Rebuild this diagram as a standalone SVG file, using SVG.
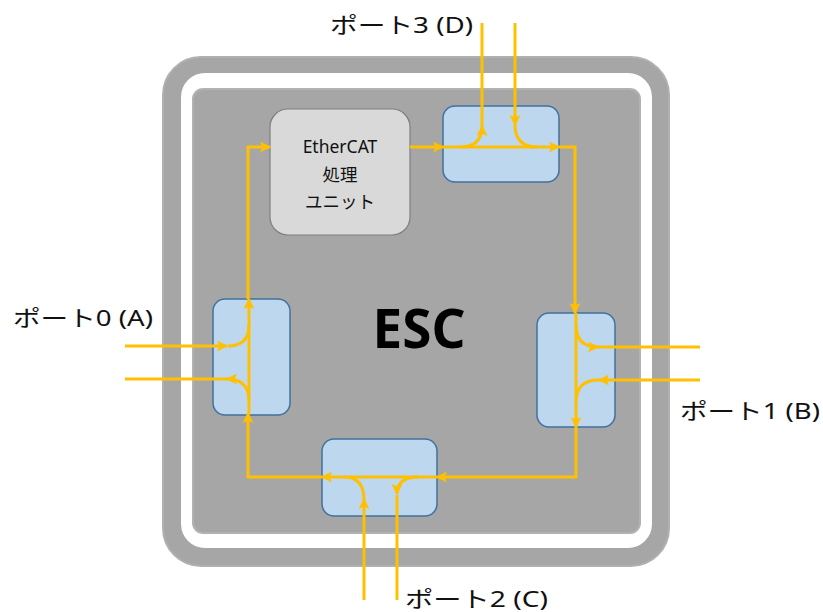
<svg xmlns="http://www.w3.org/2000/svg" width="823" height="612" viewBox="0 0 823 612">
<style>
.lbl{font-family:"Noto Sans","Noto Sans CJK JP",sans-serif;font-size:22px;fill:#111}
.unit{font-family:"Noto Sans","Noto Sans CJK JP",sans-serif;font-size:17.5px;fill:#111}
.port{fill:#bdd7ee;stroke:#41719c;stroke-width:1.5}
.ln{fill:none;stroke:#ffc000;stroke-width:3}
.ar{marker-end:url(#ah)}
</style>
<defs>
<marker id="ah" viewBox="0 0 10 10" refX="9" refY="5" markerWidth="11" markerHeight="11" markerUnits="userSpaceOnUse" orient="auto">
<path d="M0,0 L10,5 L0,10 L2,5 z" fill="#ffc000"/>
</marker>
</defs>
<rect width="823" height="612" fill="#fff"/>
<g id="esc-frame">
<rect x="163" y="57" width="506" height="509" rx="38" fill="#a6a6a6" stroke="#b0b0b0" stroke-width="2"/>
<rect x="181" y="73" width="471" height="475" rx="24" fill="#fff"/>
<rect x="193" y="89" width="447" height="444" rx="10" fill="#a6a6a6" stroke="#b2b2b2" stroke-width="2"/>
<text x="419" y="348" text-anchor="middle" style="font-family:'Noto Sans',sans-serif;font-size:53px;font-weight:bold;fill:#000">ESC</text>
</g>
<g id="ethercat-unit">
<rect x="270" y="109" width="140" height="126" rx="18" fill="#d9d9d9" stroke="#7f7f7f" stroke-width="1.2"/>
<text class="unit" x="340" y="153" text-anchor="middle">EtherCAT</text>
<text class="unit" x="340" y="181" text-anchor="middle">処理</text>
<text class="unit" x="340" y="208" text-anchor="middle">ユニット</text>
</g>
<g id="port-d"><rect class="port" x="443" y="106" width="116" height="76" rx="12"/></g>
<g id="port-a"><rect class="port" x="213" y="299" width="77" height="116" rx="12"/></g>
<g id="port-b"><rect class="port" x="537" y="313" width="78" height="114" rx="12"/></g>
<g id="port-c"><rect class="port" x="322" y="439" width="115" height="77" rx="12"/></g>
<g id="connectors">
<path class="ln ar" d="M248,299 V147 H270"/>
<path class="ln ar" d="M410,147 H443"/>
<path class="ln ar" d="M443,147 H559"/>
<path class="ln ar" d="M559,147 H575 V313"/>
<path class="ln ar" d="M576,313 V427"/>
<path class="ln ar" d="M576,427 V477 H437"/>
<path class="ln ar" d="M437,477 H322"/>
<path class="ln ar" d="M322,477 H248 V413"/>
<path class="ln ar" d="M249,413 V299"/>
<path class="ln" d="M482,23 V127"/>
<path class="ln ar" d="M460,147 Q482,147 482,126"/>
<path class="ln ar" d="M515,23 V125"/>
<path class="ln" d="M515,125 Q515,147 538,147"/>
<path class="ln ar" d="M125,346 H227"/>
<path class="ln" d="M228,346 Q249,346 249,325"/>
<path class="ln" d="M125,379 H228"/>
<path class="ln ar" d="M249,401 Q249,379 227,379"/>
<path class="ln ar" d="M576,325 Q576,347 598,347"/>
<path class="ln" d="M597,347 H700"/>
<path class="ln ar" d="M700,380 H599"/>
<path class="ln" d="M599,380 Q576,380 576,402"/>
<path class="ln ar" d="M364,600 V499"/>
<path class="ln" d="M364,500 Q364,477 344,477"/>
<path class="ln ar" d="M418,477 Q397,477 397,494"/>
<path class="ln" d="M397,600 V495"/>
</g>
<g id="labels">
<text class="lbl" x="330" y="33" textLength="143" lengthAdjust="spacingAndGlyphs">ポート3 (D)</text>
<text class="lbl" x="13" y="326" textLength="140" lengthAdjust="spacingAndGlyphs">ポート0 (A)</text>
<text class="lbl" x="680" y="419" textLength="140" lengthAdjust="spacingAndGlyphs">ポート1 (B)</text>
<text class="lbl" x="405" y="607" textLength="143" lengthAdjust="spacingAndGlyphs">ポート2 (C)</text>
</g>
</svg>
